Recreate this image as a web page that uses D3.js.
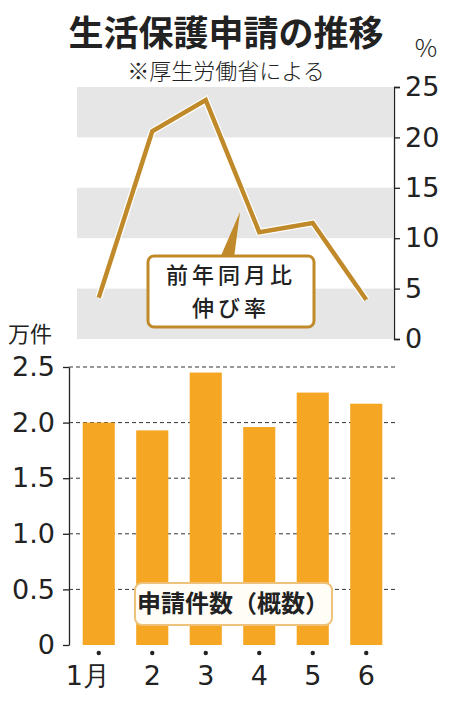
<!DOCTYPE html>
<html>
<head>
<meta charset="utf-8">
<script src="https://cdn.jsdelivr.net/npm/d3@7"></script>
<style>
  body { margin: 0; background: #fff; }
  svg { display: block; font-family: "Noto Sans CJK JP", "Noto Sans", sans-serif; }
</style>
</head>
<body>
<div class="graphics"></div>
<script>
// datos
var months = ["1月", "2", "3", "4", "5", "6"]
var growthRate = [4.1, 20.6, 23.7, 10.6, 11.5, 3.9]       // 前年同月比伸び率 (%)
var applications = [2.0, 1.93, 2.45, 1.96, 2.27, 2.17]    // 申請件数 (万件)
var rateTicks = [0, 5, 10, 15, 20, 25]
var countTicks = [0, 0.5, 1.0, 1.5, 2.0, 2.5]

var w = 457, h = 702
var gold = "#c08a2a", orange = "#f5a623"
var numFont = "\"DejaVu Sans\", sans-serif"

var svg = d3.select(".graphics").append("svg")
    .attr("width", w)
    .attr("height", h)

// titulo
svg.append("text")
    .attr("x", 226).attr("y", 46)
    .attr("text-anchor", "middle")
    .attr("font-size", 35).attr("font-weight", 700)
    .attr("fill", "#222")
    .text("生活保護申請の推移")
svg.append("text")
    .attr("x", 226).attr("y", 79)
    .attr("text-anchor", "middle")
    .attr("font-size", 22).attr("font-weight", 300)
    .attr("fill", "#222")
    .text("※厚生労働省による")

// escala x compartida
var x = d3.scaleBand()
    .domain(months)
    .range([72, 393])
    .paddingInner(0.4)
    .paddingOuter(0.2)
var cx = function(m){ return x(m) + x.bandwidth() / 2 }

// ---- grafico de arriba: linea ----
var yTop = d3.scaleLinear().domain([0, 25]).range([339, 87])

// bandas grises
var bands = [[0, 5], [10, 15], [20, 25]]
svg.selectAll(".band")
    .data(bands)
    .enter()
    .append("rect")
    .attr("class", "band")
    .attr("x", 77)
    .attr("width", 393 - 77)
    .attr("y", function(d){ return yTop(d[1]) })
    .attr("height", function(d){ return yTop(d[0]) - yTop(d[1]) })
    .attr("fill", "#e6e6e6")

var axTop = svg.append("g")
    .attr("transform", "translate(394,0)")
    .call(d3.axisRight(yTop).tickValues(rateTicks).tickSize(6).tickPadding(5))
axTop.select(".domain").attr("stroke", "#222").attr("stroke-width", 1.3)
axTop.selectAll(".tick line").attr("stroke", "#222").attr("stroke-width", 1.3)
axTop.selectAll(".tick text")
    .attr("font-size", 27).attr("font-weight", 400)
    .attr("font-family", numFont)
    .attr("fill", "#222")

svg.append("text")
    .attr("x", 426).attr("y", 57)
    .attr("text-anchor", "middle")
    .attr("font-size", 25).attr("font-weight", 300)
    .attr("fill", "#222")
    .text("%")

var line = d3.line()
    .x(function(d, i){ return cx(months[i]) })
    .y(function(d){ return yTop(d) })

svg.append("path")
    .datum(growthRate)
    .attr("d", line)
    .attr("fill", "none")
    .attr("stroke", "#fff")
    .attr("stroke-width", 7)
    .attr("stroke-linejoin", "miter")
svg.append("path")
    .datum(growthRate)
    .attr("d", line)
    .attr("fill", "none")
    .attr("stroke", gold)
    .attr("stroke-width", 4.5)
    .attr("stroke-linejoin", "miter")

// globo de la leyenda
svg.append("path")
    .attr("d", "M220,258 L234,258 L240,212 Z")
    .attr("fill", gold)
svg.append("rect")
    .attr("x", 148).attr("y", 256)
    .attr("width", 166).attr("height", 71)
    .attr("rx", 6)
    .attr("fill", "#fff")
    .attr("stroke", gold)
    .attr("stroke-width", 3)
var lbl = svg.append("text")
    .attr("text-anchor", "middle")
    .attr("font-size", 22).attr("font-weight", 500)
    .attr("fill", "#222")
lbl.append("tspan").attr("x", 231).attr("y", 283).attr("letter-spacing", 4).text("前年同月比")
lbl.append("tspan").attr("x", 231).attr("y", 316).attr("letter-spacing", 4).text("伸び率")

// ---- grafico de abajo: barras ----
var yBot = d3.scaleLinear().domain([0, 2.5]).range([645, 367])

svg.selectAll(".grid")
    .data(countTicks.filter(function(d){ return d > 0 }))
    .enter()
    .append("line")
    .attr("class", "grid")
    .attr("x1", 69).attr("x2", 396)
    .attr("y1", function(d){ return yBot(d) })
    .attr("y2", function(d){ return yBot(d) })
    .attr("stroke", "#333")
    .attr("stroke-width", 1)
    .attr("stroke-dasharray", "4,3")

svg.selectAll(".bar")
    .data(applications)
    .enter()
    .append("rect")
    .attr("class", "bar")
    .attr("x", function(d, i){ return x(months[i]) })
    .attr("width", x.bandwidth())
    .attr("y", function(d){ return yBot(d) })
    .attr("height", function(d){ return yBot(0) - yBot(d) })
    .attr("fill", orange)

var axBot = svg.append("g")
    .attr("transform", "translate(69,0)")
    .call(d3.axisLeft(yBot).tickValues(countTicks).tickSize(6).tickSizeOuter(0).tickPadding(8)
        .tickFormat(function(d){ return d === 0 ? "0" : d3.format(".1f")(d) }))
axBot.select(".domain").attr("stroke", "#222").attr("stroke-width", 1.3)
axBot.selectAll(".tick line").attr("stroke", "#222").attr("stroke-width", 1.3)
axBot.selectAll(".tick text")
    .attr("font-size", 27).attr("font-weight", 400)
    .attr("font-family", numFont)
    .attr("fill", "#222")

svg.append("text")
    .attr("x", 8).attr("y", 342)
    .attr("font-size", 22).attr("font-weight", 400)
    .attr("fill", "#222")
    .text("万件")

// puntos y meses
svg.selectAll(".dot")
    .data(months)
    .enter()
    .append("circle")
    .attr("class", "dot")
    .attr("cx", cx)
    .attr("cy", 653)
    .attr("r", 2.2)
    .attr("fill", "#222")

svg.selectAll(".month")
    .data(months)
    .enter()
    .append("text")
    .attr("class", "month")
    .attr("x", function(d, i){ return cx(d) - (i === 0 ? 11 : 0) })
    .attr("y", 685)
    .attr("text-anchor", "middle")
    .attr("font-size", 27).attr("font-weight", 400)
    .attr("font-family", numFont)
    .attr("fill", "#222")
    .text(function(d){ return d })

// etiqueta de barras
svg.append("rect")
    .attr("x", 135).attr("y", 583)
    .attr("width", 197).attr("height", 42)
    .attr("rx", 7)
    .attr("fill", "#fffdf6")
    .attr("stroke", "#eec27a")
    .attr("stroke-width", 2)
svg.append("text")
    .attr("x", 233).attr("y", 612)
    .attr("text-anchor", "middle")
    .attr("font-size", 24).attr("font-weight", 700)
    .attr("fill", "#222")
    .text("申請件数（概数）")
</script>
</body>
</html>
